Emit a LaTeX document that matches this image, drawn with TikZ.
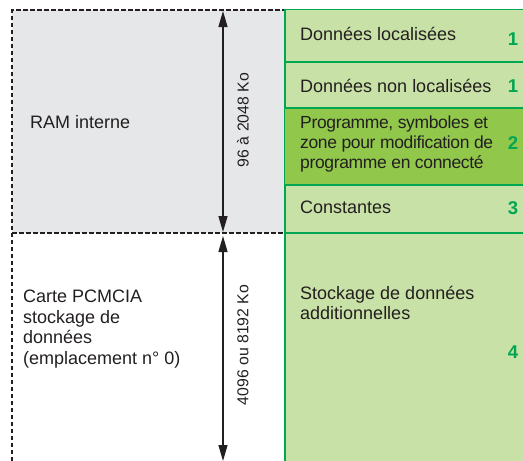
\documentclass[tikz,border=0pt]{standalone}
\usepackage{fontspec}
\setmainfont{Liberation Sans}
\usetikzlibrary{arrows.meta}
\definecolor{ramgray}{RGB}{230,231,232}
\definecolor{vertclair}{RGB}{200,225,166}
\definecolor{vertfonce}{RGB}{145,199,75}
\definecolor{vertligne}{RGB}{0,166,81}
\definecolor{encre}{RGB}{35,31,32}
\tikzset{
    txt/.style={anchor=west, inner sep=0pt, align=left, text=encre,
        font=\fontsize{18}{20.5}\selectfont},
    serre/.style={font=\fontsize{17.5}{20}\selectfont\addfontfeature{LetterSpace=-2}},
    numero/.style={inner sep=0pt, text=vertligne,
        font=\fontsize{18.5}{20}\selectfont\bfseries},
    taille/.style={inner sep=0pt, rotate=90, text=encre,
        font=\fontsize{15.8}{18}\selectfont},
    zone/.style={draw=vertligne, line width=1.3pt},
    pointille/.style={dash pattern=on 4.5pt off 2.5pt, line width=1.1pt, encre},
    cote/.style={line width=1.3pt, encre, {Triangle[length=16pt,width=9pt]}-{Triangle[length=16pt,width=9pt]}}
}
\begin{document}
\begin{tikzpicture}[x=1pt, y=-1pt]
        \useasboundingbox (0,0) rectangle (523,461);

        \fill[ramgray] (12,10) rectangle (285,233);
        \draw[pointille] (12,461) -- (12,10) -- (285,10);
        \draw[pointille] (12,233) -- (285,233);

        \filldraw[zone, fill=vertclair] (285,9.5) rectangle (524,62);
        \filldraw[zone, fill=vertclair] (285,62) rectangle (524,108);
        \filldraw[zone, fill=vertfonce] (284.5,108) rectangle (524,185);
        \filldraw[zone, fill=vertclair] (285,185) rectangle (524,233);
        \filldraw[zone, fill=vertclair] (285,233) rectangle (524,463);

        \coordinate (ramhaut) at (223,11);
        \coordinate (rambas) at (223,232);
        \coordinate (cartehaut) at (223,236);
        \coordinate (cartebas) at (223,461);
        \draw[cote] (ramhaut) -- (rambas);
        \draw[cote] (cartehaut) -- (cartebas);

        \node[taille] (tailleram) at (243,120) {96 à 2048 Ko};
        \node[taille] (taillecarte) at (243,345) {4096 ou 8192 Ko};

        \node[txt] (ram) at (30,122) {RAM interne};
        \node[txt] (carte) at (23,329) {Carte PCMCIA\\stockage de\\données\\(emplacement n° 0)};

        \node[txt] (loc) at (300,34) {Données localisées};
        \node[txt] (nonloc) at (300,86) {Données non localisées};
        \node[txt, serre] (prog) at (300,144) {Programme, symboles et\\zone pour modification de\\programme en connecté};
        \node[txt] (const) at (300,207) {Constantes};
        \node[txt] (stock) at (300,303) {Stockage de données\\additionnelles};

        \node[numero] (n1) at (513,39) {1};
        \node[numero] (n1b) at (513,86) {1};
        \node[numero] (n2) at (513,143) {2};
        \node[numero] (n3) at (513,208) {3};
        \node[numero] (n4) at (513,352) {4};
\end{tikzpicture}
\end{document}
